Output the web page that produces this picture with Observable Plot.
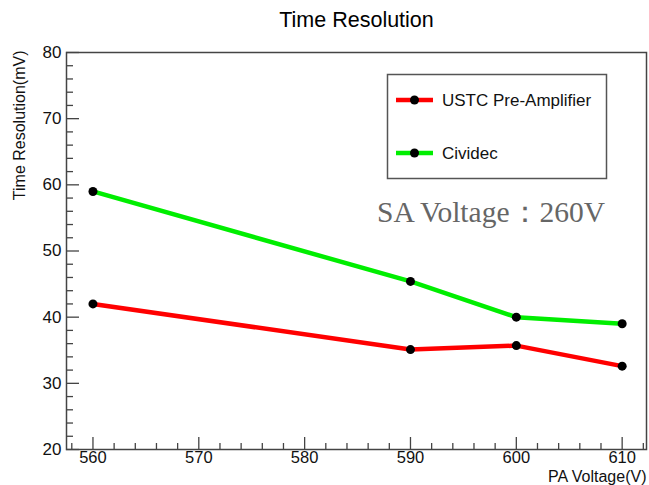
<!DOCTYPE html>
<html>
<head>
<meta charset="utf-8">
<script src="https://cdn.jsdelivr.net/npm/d3@7"></script>
<script src="https://cdn.jsdelivr.net/npm/@observablehq/plot@0.6"></script>
<style>
  html, body { margin: 0; padding: 0; background: #fff; }
  #chart svg { display: block; }
</style>
</head>
<body>
<div id="chart"></div>
<script>
// PA voltage settings (V)
const paVoltage = [560, 590, 600, 610];
// Time resolution for each pre-amplifier
const ustcPreAmp = [42.0, 35.1, 35.7, 32.6];
const cividec = [59.0, 45.4, 40.0, 39.0];
// Axis tick values
const xTicks = [560, 570, 580, 590, 600, 610];
const yTicks = [20, 30, 40, 50, 60, 70, 80];
const xMinor = d3.range(558, 613, 2).filter(v => v % 10 !== 0);
const yMinor = d3.range(20, 81, 2).filter(v => v % 10 !== 0);

const series = [
  {name: "USTC Pre-Amplifier", color: "#ff0000", values: ustcPreAmp},
  {name: "Cividec", color: "#00ee00", values: cividec}
];
const rows = series.flatMap(s => paVoltage.map((v, i) => ({series: s.name, pa: v, res: s.values[i]})));

const W = 649, H = 485;
const mL = 66, mR = 3, mT = 52, mB = 36;
const plotW = W - mL - mR, plotH = H - mT - mB;
const axisColor = "#444";
const font = "'Liberation Sans', Arial, Helvetica, sans-serif";

const chart = Plot.plot({
  width: W,
  height: H,
  marginLeft: mL,
  marginRight: mR,
  marginTop: mT,
  marginBottom: mB,
  style: {fontFamily: font, fontSize: "16px", color: "#000", background: "#fff"},
  x: {domain: [557.5, 612.3], axis: null},
  y: {domain: [20, 80], axis: null},
  marks: [
    // inward-pointing ticks along the bottom and left frame edges
    Plot.ruleX(xTicks, {x: d => d, stroke: axisColor, strokeWidth: 1.3, insetTop: plotH - 12}),
    Plot.ruleX(xMinor, {x: d => d, stroke: axisColor, strokeWidth: 1.3, insetTop: plotH - 6}),
    Plot.ruleY(yTicks, {y: d => d, stroke: axisColor, strokeWidth: 1.3, insetRight: plotW - 13}),
    Plot.ruleY(yMinor, {y: d => d, stroke: axisColor, strokeWidth: 1.3, insetRight: plotW - 7}),
    Plot.frame({stroke: axisColor, strokeWidth: 1.5}),
    Plot.axisX(xTicks, {tickSize: 0, tickPadding: 2, fontSize: 16.5, fill: "#111", label: null}),
    Plot.axisY(yTicks, {tickSize: 0, tickPadding: 5, fontSize: 17, fill: "#111", label: null}),
    // axis titles and chart title
    Plot.text(["PA Voltage(V)"], {frameAnchor: "bottom-right", textAnchor: "end", dy: 32.5, fontSize: 16, fill: "#111"}),
    Plot.text(["Time Resolution(mV)"], {frameAnchor: "top-left", textAnchor: "end", rotate: -90, dx: -53, dy: -2, fontSize: 16, fill: "#111"}),
    Plot.text(["Time Resolution"], {frameAnchor: "top", dy: -41, fontSize: 21.5, fill: "#000"}),
    // data
    ...series.map(s => Plot.line(rows.filter(r => r.series === s.name), {x: "pa", y: "res", stroke: s.color, strokeWidth: 4.5})),
    Plot.dot(rows, {x: "pa", y: "res", fill: "#000", r: 4.5})
  ]
});

// legend box and run-condition note
const svg = d3.select(chart);
const lg = svg.append("g").attr("font-family", font).attr("text-anchor", "start");
lg.append("rect")
  .attr("x", 387.5).attr("y", 74.5).attr("width", 219).attr("height", 104)
  .attr("fill", "#fff").attr("stroke", "#555").attr("stroke-width", 1.5);
series.forEach((s, i) => {
  const cy = 100 + i * 53;
  lg.append("line").attr("x1", 396).attr("x2", 433).attr("y1", cy).attr("y2", cy)
    .attr("stroke", s.color).attr("stroke-width", 4.5);
  lg.append("circle").attr("cx", 414.5).attr("cy", cy).attr("r", 4.5).attr("fill", "#000");
  lg.append("text").attr("x", 442).attr("y", cy).attr("dy", "0.36em")
    .attr("font-size", 17).attr("fill", "#111").text(s.name);
});
svg.append("text")
  .attr("x", 377).attr("y", 222)
  .attr("text-anchor", "start")
  .attr("font-family", "'Liberation Serif', 'Times New Roman', serif")
  .attr("font-size", 29.5).attr("fill", "#666")
  .text("SA Voltage：260V");

document.getElementById("chart").append(chart);
</script>
</body>
</html>
